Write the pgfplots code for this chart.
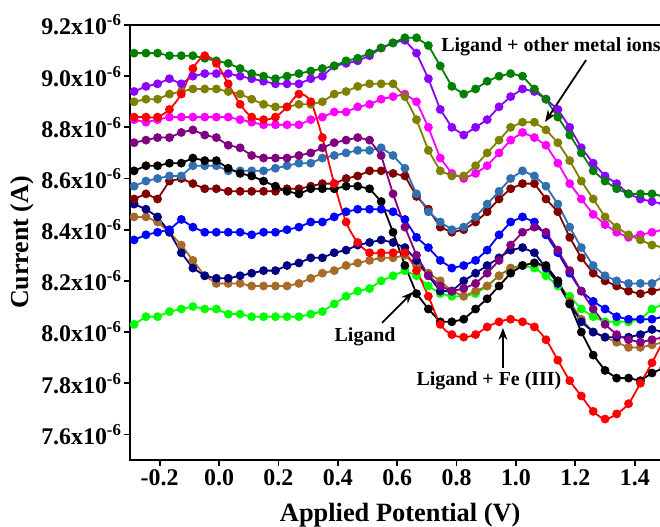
\documentclass[border=0pt]{standalone}
\usepackage{pgfplots}
\pgfplotsset{compat=1.18}
\usepackage{pgfplotstable}
\usepackage{fontspec}
\setmainfont{Liberation Serif}
\usetikzlibrary{arrows.meta}

\definecolor{cG}{HTML}{008000}
\definecolor{cV}{HTML}{8B00FF}
\definecolor{cO}{HTML}{808000}
\definecolor{cM}{HTML}{FF00FF}
\definecolor{cR}{HTML}{FF0000}
\definecolor{cP}{HTML}{800080}
\definecolor{cK}{HTML}{000000}
\definecolor{cS}{HTML}{3070B0}
\definecolor{cD}{HTML}{800000}
\definecolor{cB}{HTML}{0000FF}
\definecolor{cN}{HTML}{000080}
\definecolor{cW}{HTML}{A86A28}
\definecolor{cL}{HTML}{00FF00}

\pgfplotstableread{
x G V O M R P K S D B N W L
-0.286 9.09 8.94 8.90 8.83 8.84 8.74 8.63 8.57 8.52 8.36 8.50 8.45 8.03
-0.246 9.09 8.96 8.91 8.82 8.84 8.75 8.65 8.59 8.54 8.38 8.48 8.45 8.06
-0.207 9.09 8.97 8.91 8.83 8.84 8.76 8.65 8.60 8.52 8.39 8.45 8.43 8.06
-0.167 9.08 8.99 8.93 8.84 8.87 8.76 8.66 8.61 8.59 8.40 8.39 8.39 8.08
-0.127 9.08 8.97 8.94 8.84 8.93 8.78 8.66 8.61 8.60 8.44 8.31 8.34 8.09
-0.088 9.08 9.00 8.95 8.84 9.03 8.79 8.68 8.65 8.58 8.41 8.25 8.28 8.10
-0.048 9.07 9.01 8.95 8.84 9.08 8.77 8.67 8.65 8.56 8.39 8.22 8.22 8.09
-0.009 9.06 9.01 8.95 8.84 9.05 8.76 8.67 8.65 8.56 8.39 8.21 8.19 8.09
0.031 9.05 9.01 8.94 8.84 8.97 8.73 8.64 8.63 8.55 8.39 8.21 8.19 8.07
0.071 9.03 9.00 8.93 8.83 8.89 8.72 8.62 8.63 8.55 8.39 8.22 8.19 8.07
0.110 9.01 8.99 8.91 8.82 8.84 8.69 8.61 8.63 8.55 8.38 8.23 8.18 8.06
0.150 9.00 8.98 8.89 8.81 8.83 8.68 8.59 8.63 8.55 8.39 8.24 8.18 8.06
0.190 8.99 8.97 8.88 8.81 8.84 8.68 8.57 8.64 8.55 8.39 8.24 8.18 8.06
0.229 9.00 8.97 8.88 8.81 8.88 8.68 8.55 8.65 8.56 8.40 8.26 8.18 8.06
0.269 9.01 8.97 8.89 8.81 8.93 8.69 8.54 8.66 8.56 8.41 8.27 8.19 8.06
0.309 9.02 8.99 8.89 8.83 8.90 8.70 8.56 8.66 8.57 8.43 8.29 8.21 8.07
0.348 9.03 9.00 8.90 8.84 8.76 8.72 8.56 8.68 8.58 8.43 8.29 8.23 8.08
0.388 9.04 9.04 8.93 8.86 8.58 8.74 8.56 8.69 8.58 8.45 8.31 8.24 8.11
0.428 9.06 9.05 8.94 8.86 8.43 8.75 8.57 8.70 8.60 8.47 8.32 8.26 8.14
0.467 9.07 9.06 8.96 8.88 8.35 8.76 8.57 8.71 8.61 8.48 8.34 8.27 8.16
0.507 9.09 9.08 8.97 8.89 8.31 8.75 8.56 8.71 8.63 8.48 8.35 8.28 8.17
0.546 9.11 9.11 8.97 8.91 8.31 8.69 8.51 8.72 8.63 8.48 8.36 8.29 8.20
0.586 9.13 9.13 8.97 8.92 8.31 8.54 8.39 8.69 8.62 8.47 8.35 8.29 8.22
0.626 9.15 9.14 8.92 8.93 8.31 8.41 8.26 8.64 8.61 8.44 8.33 8.30 8.24
0.665 9.15 9.09 8.83 8.90 8.24 8.30 8.15 8.54 8.53 8.37 8.28 8.26 8.22
0.705 9.12 8.99 8.71 8.80 8.14 8.22 8.09 8.47 8.48 8.33 8.22 8.23 8.18
0.745 9.04 8.87 8.63 8.68 8.03 8.18 8.04 8.43 8.41 8.28 8.16 8.20 8.15
0.784 8.96 8.80 8.61 8.62 7.99 8.16 8.04 8.40 8.39 8.25 8.16 8.16 8.14
0.824 8.93 8.77 8.61 8.60 7.98 8.17 8.05 8.41 8.40 8.26 8.20 8.14 8.14
0.864 8.95 8.80 8.65 8.62 7.99 8.19 8.09 8.45 8.43 8.28 8.23 8.16 8.15
0.903 8.98 8.83 8.70 8.65 8.02 8.23 8.13 8.50 8.47 8.32 8.26 8.18 8.18
0.943 9.00 8.88 8.75 8.70 8.04 8.28 8.18 8.55 8.52 8.38 8.29 8.22 8.22
0.982 9.01 8.92 8.80 8.75 8.05 8.34 8.23 8.60 8.56 8.43 8.32 8.25 8.25
1.022 9.00 8.95 8.82 8.78 8.04 8.39 8.26 8.63 8.58 8.45 8.33 8.26 8.26
1.062 8.95 8.94 8.82 8.76 8.02 8.41 8.27 8.61 8.58 8.43 8.31 8.27 8.25
1.101 8.91 8.91 8.79 8.73 7.97 8.39 8.26 8.57 8.52 8.38 8.25 8.25 8.22
1.141 8.84 8.87 8.74 8.66 7.89 8.32 8.20 8.50 8.47 8.31 8.19 8.20 8.18
1.181 8.77 8.80 8.67 8.58 7.81 8.24 8.11 8.41 8.37 8.23 8.11 8.12 8.14
1.220 8.70 8.72 8.59 8.52 7.75 8.16 8.00 8.33 8.29 8.16 8.04 8.05 8.09
1.260 8.63 8.66 8.52 8.46 7.69 8.09 7.91 8.26 8.23 8.12 8.00 8.00 8.06
1.300 8.59 8.61 8.45 8.42 7.66 8.03 7.85 8.22 8.20 8.09 7.98 7.98 8.04
1.339 8.56 8.58 8.41 8.39 7.68 7.99 7.82 8.20 8.18 8.06 7.98 7.96 8.04
1.379 8.54 8.54 8.38 8.37 7.72 7.97 7.82 8.19 8.16 8.05 7.98 7.94 8.04
1.419 8.54 8.52 8.36 8.38 7.80 7.96 7.81 8.19 8.15 8.05 7.99 7.94 8.05
1.458 8.54 8.51 8.34 8.39 7.88 7.97 7.84 8.19 8.16 8.05 8.01 7.95 8.09
1.498 8.53 8.50 8.33 8.40 7.97 7.98 7.86 8.22 8.17 8.06 8.00 7.96 8.11
}\data

\pgfplotsset{
  ser/.style={color=#1, line width=1.8pt, mark=*, mark size=3.5pt,
    mark options={solid, fill=#1, draw=#1}},
}

\begin{document}
\begin{tikzpicture}
\begin{axis}[
  scale only axis,
  width=540.7bp, height=435.2bp,
  xmin=-0.3, xmax=1.52,
  ymin=7.5, ymax=9.2,
  axis line style={line width=2.2pt},
  tick style={line width=1.8pt, black},
  major tick length=6bp,
  tick align=outside,
  xtick pos=left, ytick pos=left,
  xtick={-0.2,0,0.2,0.4,0.6,0.8,1.0,1.2,1.4},
  xticklabels={-0.2,0.0,0.2,0.4,0.6,0.8,1.0,1.2,1.4},
  ytick={7.6,7.8,8.0,8.2,8.4,8.6,8.8,9.0,9.2},
  yticklabels={7.6x10\textsuperscript{-6},7.8x10\textsuperscript{-6},8.0x10\textsuperscript{-6},8.2x10\textsuperscript{-6},8.4x10\textsuperscript{-6},8.6x10\textsuperscript{-6},8.8x10\textsuperscript{-6},9.0x10\textsuperscript{-6},9.2x10\textsuperscript{-6}},
  tick label style={font=\fontsize{24}{28}\selectfont\bfseries},
  yticklabel style={xshift=1bp},
  xlabel={Applied Potential (V)},
  ylabel={Current (A)},
  every axis x label/.style={at={([yshift=-55bp]axis description cs:0.5,0)}, anchor=center, font=\fontsize{26.5}{30}\selectfont\bfseries},
  every axis y label/.style={at={([xshift=-108bp]axis description cs:0,0.5)}, anchor=center, rotate=90, font=\fontsize{26}{30}\selectfont\bfseries},
]
\addplot[ser=cL] table[x=x,y=L]{\data};
\addplot[ser=cW] table[x=x,y=W]{\data};
\addplot[ser=cN] table[x=x,y=N]{\data};
\addplot[ser=cB] table[x=x,y=B]{\data};
\addplot[ser=cD] table[x=x,y=D]{\data};
\addplot[ser=cS] table[x=x,y=S]{\data};
\addplot[ser=cP] table[x=x,y=P]{\data};
\addplot[ser=cM] table[x=x,y=M]{\data};
\addplot[ser=cO] table[x=x,y=O]{\data};
\addplot[ser=cV] table[x=x,y=V]{\data};
\addplot[ser=cG] table[x=x,y=G]{\data};
\addplot[ser=cK] table[x=x,y=K]{\data};
\addplot[ser=cR, smooth] table[x=x,y=R]{\data};

\node[font=\fontsize{20}{24}\selectfont\bfseries] at (axis cs:1.118,9.114) {Ligand + other metal ions};
\draw[line width=1.8pt, -{Stealth[length=12bp,width=9bp]}] (axis cs:1.236,9.063) -- (axis cs:1.098,8.821);
\node[font=\fontsize{20}{24}\selectfont\bfseries] at (axis cs:0.492,7.981) {Ligand};
\draw[line width=1.8pt, -{Stealth[length=12bp,width=9bp]}] (axis cs:0.549,8.036) -- (axis cs:0.653,8.157);
\node[font=\fontsize{20}{24}\selectfont\bfseries] at (axis cs:0.909,7.809) {Ligand + Fe (III)};
\draw[line width=1.8pt, -{Stealth[length=12bp,width=9bp]}] (axis cs:0.956,7.860) -- (axis cs:0.956,8.016);

\coordinate (bl) at (axis cs:-0.3,7.5);
\coordinate (tr) at (axis cs:1.485,9.2);
\end{axis}
\pgfresetboundingbox
\path[use as bounding box] ([xshift=-130bp,yshift=-67bp]bl) rectangle ([yshift=25bp]tr);
\end{tikzpicture}
\end{document}
